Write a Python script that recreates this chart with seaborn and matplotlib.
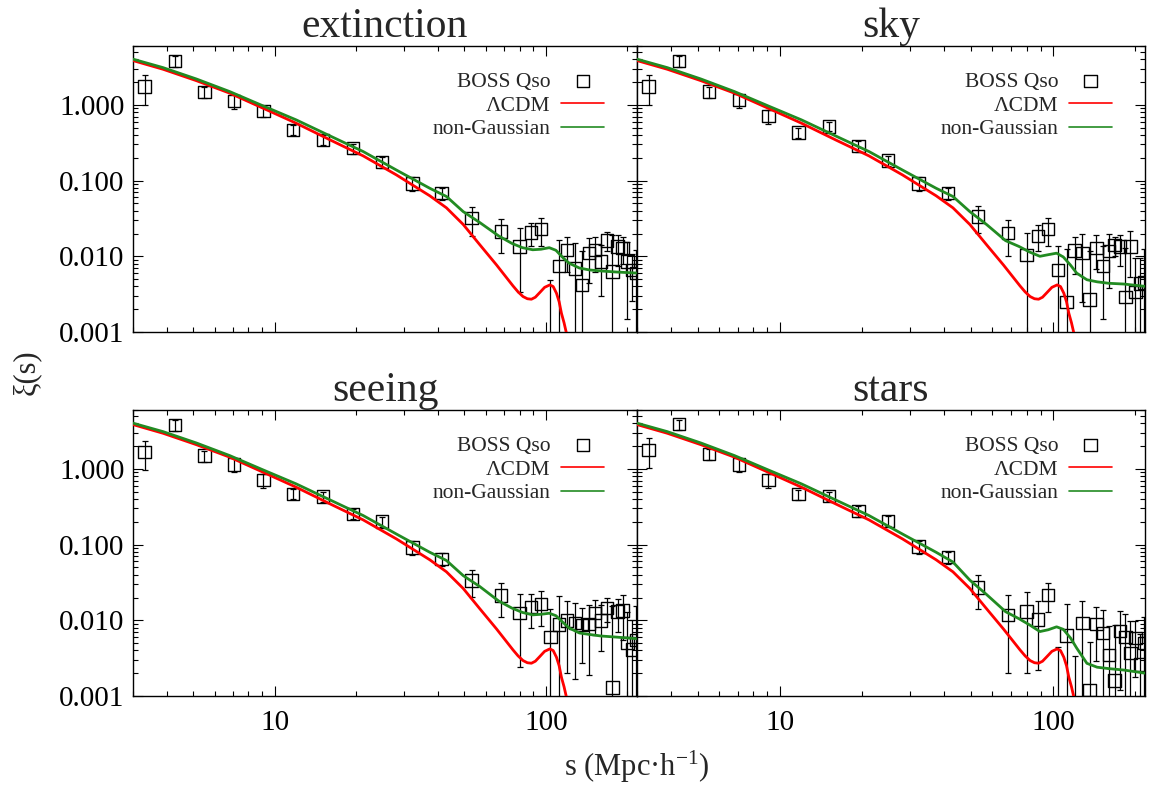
import matplotlib
matplotlib.use("Agg")
import matplotlib.pyplot as plt
import numpy as np
import pandas as pd
import seaborn as sns
from matplotlib.ticker import LogLocator, NullFormatter

# ---- separation bins (Mpc/h) ----
s_bins = [3.31, 4.28, 5.5, 7.08, 9.08, 11.7, 15.1, 19.4, 24.9, 32.2, 41.3, 53.2, 68.4,
          80, 88, 96, 104, 112, 120, 128, 136, 144, 152, 160, 168, 176, 184, 192, 200, 208, 216]

# ---- measured correlation function per systematic weight ----
xi_extinction = [1.75, 3.81, 1.47, 1.13, 0.83, 0.47, 0.345, 0.268, 0.175, 0.092, 0.068, 0.0318, 0.0212,
                 0.0134, 0.0206, 0.0228, 0.0004, 0.0075, 0.0122, 0.0069, 0.0042, 0.0110, 0.0122, 0.0085,
                 0.0162, 0.0063, 0.0134, 0.0128, 0.0085, 0.0066, 0.0060]
err_extinction = [0.74, 0.60, 0.25, 0.25, 0.13, 0.07, 0.05, 0.04, 0.03, 0.018, 0.012, 0.013, 0.010,
                  0.010, 0.007, 0.009, 0.0045, 0.009, 0.006, 0.008, 0.0075, 0.0065, 0.006, 0.0055,
                  0.0045, 0.013, 0.006, 0.005, 0.007, 0.004, 0.006]

xi_sky = [1.75, 3.81, 1.50, 1.16, 0.716, 0.431, 0.517, 0.287, 0.184, 0.092, 0.068, 0.0335, 0.0202,
          0.0104, 0.0186, 0.0228, 0.0066, 0.0025, 0.0119, 0.0110, 0.0027, 0.0129, 0.0075, 0.0118,
          0.0142, 0.0134, 0.0029, 0.0134, 0.0034, 0.0044, 0.0045]
err_sky = [0.74, 0.60, 0.25, 0.25, 0.15, 0.07, 0.07, 0.045, 0.03, 0.018, 0.012, 0.013, 0.010,
           0.0098, 0.007, 0.009, 0.007, 0.010, 0.006, 0.0085, 0.009, 0.006, 0.006, 0.008,
           0.004, 0.006, 0.010, 0.008, 0.006, 0.005, 0.008]

xi_seeing = [1.66, 3.81, 1.50, 1.15, 0.716, 0.467, 0.43, 0.255, 0.201, 0.092, 0.0647, 0.0335, 0.0212,
             0.0124, 0.0150, 0.0163, 0.0060, 0.0088, 0.0100, 0.0092, 0.0087, 0.0089, 0.0124, 0.0099,
             0.0146, 0.0013, 0.0130, 0.0135, 0.0050, 0.0041, 0.0055]
err_seeing = [0.70, 0.60, 0.25, 0.25, 0.15, 0.07, 0.06, 0.04, 0.03, 0.018, 0.012, 0.013, 0.010,
              0.010, 0.007, 0.008, 0.008, 0.012, 0.008, 0.0075, 0.006, 0.007, 0.006, 0.006,
              0.005, 0.014, 0.006, 0.008, 0.008, 0.006, 0.010]

xi_stars = [1.78, 3.89, 1.56, 1.15, 0.716, 0.463, 0.44, 0.279, 0.206, 0.094, 0.068, 0.027, 0.0118,
            0.0130, 0.0102, 0.0217, 0.0004, 0.0063, 0.0004, 0.0092, 0.0012, 0.0089, 0.0068, 0.0035,
            0.0016, 0.0072, 0.0060, 0.0037, 0.0058, 0.0026, 0.0050]
err_stars = [0.75, 0.60, 0.25, 0.25, 0.15, 0.07, 0.06, 0.045, 0.03, 0.018, 0.012, 0.0127, 0.0098,
             0.011, 0.008, 0.009, 0.004, 0.010, 0.003, 0.009, 0.004, 0.006, 0.007, 0.005,
             0.007, 0.006, 0.006, 0.006, 0.004, 0.004, 0.006]

panel_titles = ["extinction", "sky", "seeing", "stars"]

# ---- model predictions ----
s_lcdm = [3.0, 3.87, 5.14, 6.82, 9.06, 12.0, 16.0, 21.2, 28.1, 37.3, 43.0, 49.6, 57.1, 65.8,
          75.7, 79.0, 82.4, 85.5, 88.5, 91.5, 95.0, 99.0, 103.5, 106.5, 109.5, 112.0, 114.2,
          116.8, 119.2, 124.0]
xi_lcdm = [3.85, 2.96, 2.09, 1.43, 0.904, 0.573, 0.345, 0.212, 0.119, 0.0631, 0.0437, 0.0263,
           0.0142, 0.00769, 0.00406, 0.00339, 0.00294, 0.00275, 0.00271, 0.00288, 0.00332,
           0.00389, 0.00419, 0.00398, 0.00325, 0.00251, 0.00177, 0.00132, 0.00096, 0.0004]

s_ng = [3.0, 3.87, 5.14, 6.82, 9.06, 12.0, 16.0, 21.2, 28.1, 37.3, 43.0, 49.6, 57.1, 67.0, 75.0,
        82.0, 89.5, 96.0, 103.0, 109.0, 116.0, 122.0, 133.0, 145.0, 160.0, 182.0, 218.0]
xi_ng_extinction = [4.02, 3.11, 2.20, 1.50, 0.970, 0.634, 0.389, 0.242, 0.138, 0.0793, 0.0617,
                    0.0389, 0.0279, 0.0186, 0.0148, 0.0130, 0.0122, 0.0124, 0.0130, 0.0120, 0.0095,
                    0.0081, 0.0070, 0.0066, 0.0064, 0.0062, 0.0060]
xi_ng_sky = [4.02, 3.11, 2.20, 1.50, 0.970, 0.634, 0.389, 0.242, 0.138, 0.0793, 0.0617,
             0.0389, 0.0263, 0.0161, 0.0135, 0.0114, 0.0100, 0.0105, 0.0110, 0.0098, 0.0076,
             0.0060, 0.0049, 0.0046, 0.0044, 0.0043, 0.0040]
xi_ng_seeing = [4.02, 3.11, 2.20, 1.50, 0.970, 0.634, 0.389, 0.242, 0.138, 0.0793, 0.0617,
                0.0389, 0.0279, 0.0180, 0.0145, 0.0127, 0.0118, 0.0120, 0.0124, 0.0115, 0.0093,
                0.0079, 0.0068, 0.0065, 0.0062, 0.0060, 0.0057]
xi_ng_stars = [4.02, 3.11, 2.20, 1.50, 0.970, 0.634, 0.389, 0.242, 0.138, 0.0793, 0.0589,
               0.0339, 0.0219, 0.0130, 0.0105, 0.0087, 0.0071, 0.0075, 0.0082, 0.0076, 0.0058,
               0.0043, 0.0027, 0.0024, 0.0023, 0.0022, 0.0020]

ytick_values = [0.001, 0.01, 0.1, 1.0]
ytick_labels = ["0.001", "0.010", "0.100", "1.000"]
xtick_values = [10, 100]
xtick_labels = ["10", "100"]

# ---- style ----
sns.set_style("ticks")
plt.rcParams["font.family"] = ["Liberation Serif", "DejaVu Serif"]
plt.rcParams["mathtext.fontset"] = "custom"
plt.rcParams["mathtext.rm"] = "Liberation Serif"
plt.rcParams["mathtext.it"] = "Liberation Serif:italic"
plt.rcParams["axes.linewidth"] = 1.0
plt.rcParams["axes.edgecolor"] = "black"

W, H = 1153, 787
fig = plt.figure(figsize=(W / 100, H / 100), dpi=100)

# panel boxes in pixels: (left, top, right, bottom)
boxes = [(133, 46, 637, 332), (637, 46, 1145, 332),
         (133, 410, 637, 696), (637, 410, 1145, 696)]

panels = [
    (xi_extinction, err_extinction, xi_ng_extinction),
    (xi_sky, err_sky, xi_ng_sky),
    (xi_seeing, err_seeing, xi_ng_seeing),
    (xi_stars, err_stars, xi_ng_stars),
]

for i, ((l, t, r, b), (xi, err, xi_ng)) in enumerate(zip(boxes, panels)):
    ax = fig.add_axes([l / W, 1 - b / H, (r - l) / W, (b - t) / H])
    ax.set_xscale("log")
    ax.set_yscale("log")

    pts = pd.DataFrame({"s": s_bins, "xi": xi, "err": err})
    ax.errorbar(pts["s"], pts["xi"], yerr=pts["err"], fmt="none", ecolor="black",
                elinewidth=0.9, capsize=2, capthick=0.9, zorder=2)
    sns.scatterplot(data=pts, x="s", y="xi", marker="s", s=80, ax=ax,
                    label="BOSS Qso", zorder=3)
    sc = ax.collections[-1]
    sc.set_facecolor("none")
    sc.set_edgecolor("black")
    sc.set_linewidth(1.0)

    sns.lineplot(x=s_lcdm, y=xi_lcdm, color="red", linewidth=2.0, ax=ax,
                 label="ΛCDM", zorder=4, sort=False)
    sns.lineplot(x=s_ng, y=xi_ng, color="#228b22", linewidth=2.0, ax=ax,
                 label="non-Gaussian", zorder=5, sort=False)

    ax.set_xlim(3.0, 217)
    ax.set_ylim(0.001, 6.0)

    ax.set_xticks(xtick_values, labels=xtick_labels)
    ax.xaxis.set_minor_locator(LogLocator(base=10, subs=np.arange(2, 10)))
    ax.xaxis.set_minor_formatter(NullFormatter())
    ax.set_yticks(ytick_values, labels=ytick_labels)
    ax.yaxis.set_minor_locator(LogLocator(base=10, subs=np.arange(2, 10)))
    ax.yaxis.set_minor_formatter(NullFormatter())

    ax.tick_params(which="both", direction="in", top=True, right=True,
                   colors="black", width=0.8)
    ax.tick_params(which="major", length=7, labelsize=21)
    ax.tick_params(which="minor", length=3.5)
    ax.tick_params(axis="x", pad=10)
    ax.tick_params(axis="y", pad=6)
    if i < 2:
        ax.tick_params(labelbottom=False)
    if i % 2 == 1:
        ax.tick_params(labelleft=False)

    ax.set_xlabel("")
    ax.set_ylabel("")
    ax.set_title(panel_titles[i], fontsize=30, pad=4)

    handles, labels = ax.get_legend_handles_labels()
    order = ["BOSS Qso", "ΛCDM", "non-Gaussian"]
    hmap = dict(zip(labels, handles))
    leg = ax.legend([hmap[k] for k in order], order, loc="upper right",
                    bbox_to_anchor=(0.935, 0.91), frameon=False, markerfirst=False,
                    fontsize=15.5, handlelength=2.0, handletextpad=0.5,
                    labelspacing=0.17, borderaxespad=0, borderpad=0)
    for ln in leg.get_lines():
        ln.set_linewidth(1.2)

fig.text(637 / W, 1 - 767 / H, "s (Mpc·h$^{\\mathrm{-1}}$)", ha="center", va="center",
         fontsize=22)
fig.text(26 / W, 1 - 372 / H, "ξ(s)", ha="center", va="center", rotation=90, fontsize=22)

fig.savefig("out.png", dpi=100)
